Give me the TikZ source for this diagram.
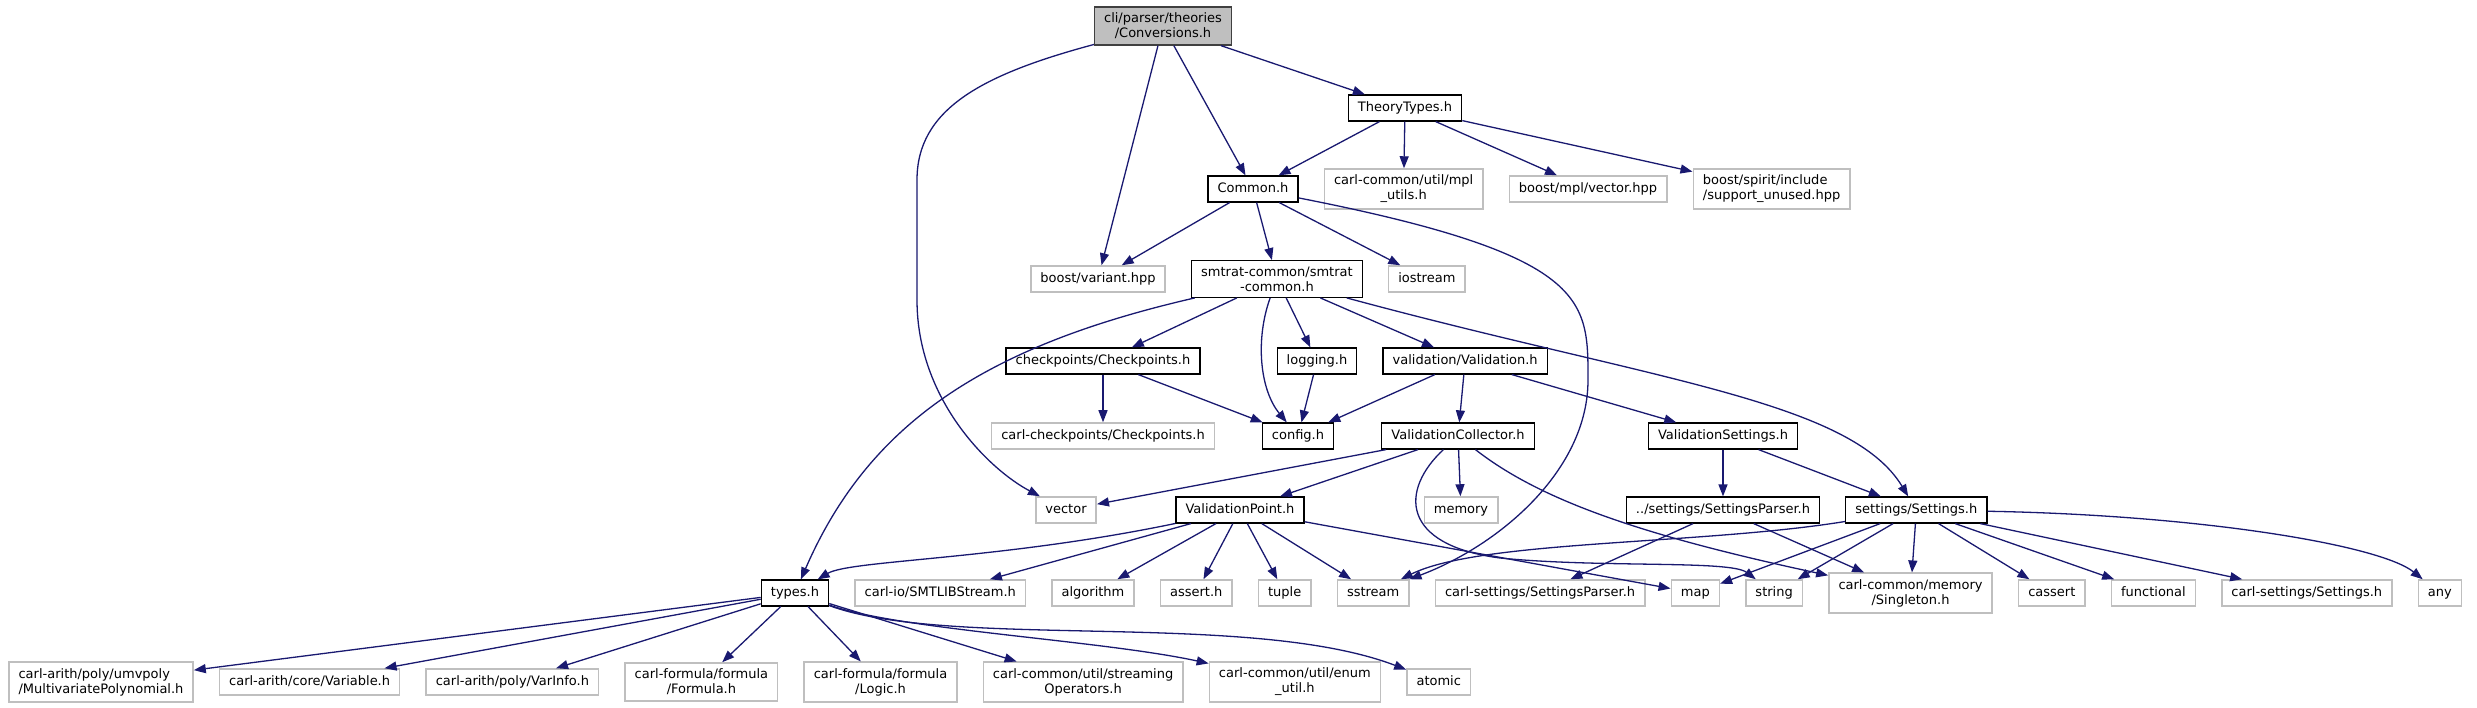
\documentclass[tikz,border=0pt]{standalone}
\usepackage{fontspec}
\newfontfamily\dejavu{DejaVu Sans}
\usetikzlibrary{positioning, arrows.meta}

\definecolor{edgeblue}{HTML}{191970}
\definecolor{extgrey}{HTML}{BFBFBF}
\definecolor{maingrey}{HTML}{BFBFBF}
\definecolor{mainborder}{HTML}{404040}

\begin{document}
\begin{tikzpicture}[
  x=1pt, y=-1pt,
  node distance=25pt,
  every node/.style={draw=black, line width=1.2pt, fill=white,
    font=\dejavu\fontsize{13}{15}\selectfont,
    inner xsep=9.6pt, inner ysep=6pt, minimum height=26pt,
    text height=10pt, text depth=3pt},
  ext/.style={draw=extgrey, line width=1.5pt},
  two/.style={align=center, text height=, text depth=},
  twoleft/.style={align=left, text height=, text depth=},
  inc/.style={draw=edgeblue, line width=1.3pt, -{Triangle[length=12pt,width=9pt]}}
]
\useasboundingbox (0,0) rectangle (2477,708);

% rows from top to bottom
\node (conv) [two, fill=maingrey, draw=mainborder] at (1163,26) {cli/parser/theories\\/Conversions.h};
\node (theorytypes) at (1405,108) {TheoryTypes.h};

\node (common) at (1253,189) {Common.h};
\node (mplutils) [ext, two, right=of common] {carl-common/util/mpl\\\_utils.h};
\node (mplvector) [ext, right=of mplutils] {boost/mpl/vector.hpp};
\node (spirit) [ext, twoleft, right=of mplvector] {boost/spirit/include\\/support\_unused.hpp};

\node (variant) [ext] at (1098,279) {boost/variant.hpp};
\node (smtrat) [two, right=of variant] {smtrat-common/smtrat\\-common.h};
\node (iostream) [ext, right=of smtrat] {iostream};

\node (checkpoints) at (1103,361) {checkpoints/Checkpoints.h};
\node (logging) at (1317,361) {logging.h};
\node (validation) [right=of logging] {validation/Validation.h};

\node (carlcheck) [ext] at (1103,436) {carl-checkpoints/Checkpoints.h};
\node (config) at (1298,436) {config.h};
\node (valcollector) at (1458,436) {ValidationCollector.h};
\node (valsettings) at (1723,436) {ValidationSettings.h};

\node (vector) [ext] at (1066,510) {vector};
\node (valpoint) at (1240,510) {ValidationPoint.h};
\node (memory) [ext] at (1461,510) {memory};
\node (settingsparser) at (1723,510) {../settings/SettingsParser.h};
\node (settings) [right=of settingsparser] {settings/Settings.h};

\node (types) at (795,593) {types.h};
\node (smtlib) [ext, right=of types] {carl-io/SMTLIBStream.h};
\node (algorithm) [ext, right=of smtlib] {algorithm};
\node (asserth) [ext, right=of algorithm] {assert.h};
\node (tuple) [ext, right=of asserth] {tuple};
\node (sstream) [ext, right=of tuple] {sstream};
\node (carlsetparser) [ext, right=of sstream] {carl-settings/SettingsParser.h};
\node (map) [ext, right=of carlsetparser] {map};
\node (string) [ext, right=of map] {string};
\node (singleton) [ext, two, right=of string] {carl-common/memory\\/Singleton.h};
\node (cassert) [ext, right=of singleton] {cassert};
\node (functional) [ext, right=of cassert] {functional};
\node (carlsettings) [ext, right=of functional] {carl-settings/Settings.h};
\node (any) [ext, right=of carlsettings] {any};

\node (multipoly) [ext, twoleft] at (101,682) {carl-arith/poly/umvpoly\\/MultivariatePolynomial.h};
\node (variable) [ext, right=of multipoly] {carl-arith/core/Variable.h};
\node (varinfo) [ext, right=of variable] {carl-arith/poly/VarInfo.h};
\node (formula) [ext, two, right=of varinfo] {carl-formula/formula\\/Formula.h};
\node (logic) [ext, two, right=of formula] {carl-formula/formula\\/Logic.h};
\node (streaming) [ext, two, right=of logic] {carl-common/util/streaming\\Operators.h};
\node (enumutil) [ext, two, right=of streaming] {carl-common/util/enum\\\_util.h};
\node (atomic) [ext, right=of enumutil] {atomic};

% include edges
\draw[inc] (conv) .. controls (980,75) and (917,110) .. (917,180) -- (917,300) .. controls (917,400) and (990,470) .. (vector);
\draw[inc] (conv) -- (variant);
\draw[inc] (conv) -- (common);
\draw[inc] (conv) -- (theorytypes);

\draw[inc] (theorytypes) -- (common);
\draw[inc] (theorytypes) -- (mplutils);
\draw[inc] (theorytypes) -- (mplvector);
\draw[inc] (theorytypes) -- (spirit);

\draw[inc] (common) -- (variant);
\draw[inc] (common) -- (smtrat);
\draw[inc] (common) -- (iostream);
\draw[inc] (common) .. controls (1590,255) and (1588,300) .. (1588,380) .. controls (1588,470) and (1500,545) .. (sstream);

\draw[inc] (smtrat) .. controls (990,345) and (870,420) .. (types);
\draw[inc] (smtrat) -- (checkpoints);
\draw[inc] (smtrat) .. controls (1255,340) and (1260,390) .. (config);
\draw[inc] (smtrat) -- (logging);
\draw[inc] (smtrat) -- (validation);
\draw[inc] (smtrat) .. controls (1650,380) and (1850,400) .. (settings);

\draw[inc] (checkpoints) -- (carlcheck);
\draw[inc] (checkpoints) -- (config);
\draw[inc] (logging) -- (config);

\draw[inc] (validation) -- (config);
\draw[inc] (validation) -- (valcollector);
\draw[inc] (validation) -- (valsettings);

\draw[inc] (valcollector) -- (vector);
\draw[inc] (valcollector) -- (valpoint);
\draw[inc] (valcollector) -- (memory);
\draw[inc] (valcollector) .. controls (1400,490) and (1400,545) .. (1500,558) .. controls (1600,568) and (1730,560) .. (string);
\draw[inc] (valcollector) .. controls (1540,500) and (1640,535) .. (singleton);

\draw[inc] (valsettings) -- (settingsparser);
\draw[inc] (valsettings) -- (settings);
\draw[inc] (settingsparser) -- (carlsetparser);
\draw[inc] (settingsparser) -- (singleton);

\draw[inc] (settings) .. controls (1700,545) and (1480,540) .. (sstream);
\draw[inc] (settings) -- (map);
\draw[inc] (settings) -- (string);
\draw[inc] (settings) -- (singleton);
\draw[inc] (settings) -- (cassert);
\draw[inc] (settings) -- (functional);
\draw[inc] (settings) -- (carlsettings);
\draw[inc] (settings) .. controls (2200,515) and (2380,545) .. (any);

\draw[inc] (valpoint) .. controls (1000,560) and (850,560) .. (types);
\draw[inc] (valpoint) -- (smtlib);
\draw[inc] (valpoint) -- (algorithm);
\draw[inc] (valpoint) -- (asserth);
\draw[inc] (valpoint) -- (tuple);
\draw[inc] (valpoint) -- (sstream);
\draw[inc] (valpoint) -- (map);

\draw[inc] (types) -- (multipoly);
\draw[inc] (types) -- (variable);
\draw[inc] (types) -- (varinfo);
\draw[inc] (types) -- (formula);
\draw[inc] (types) -- (logic);
\draw[inc] (types) -- (streaming);
\draw[inc] (types) .. controls (900,630) and (1100,640) .. (enumutil);
\draw[inc] (types) .. controls (950,650) and (1250,610) .. (atomic);
\end{tikzpicture}
\end{document}
